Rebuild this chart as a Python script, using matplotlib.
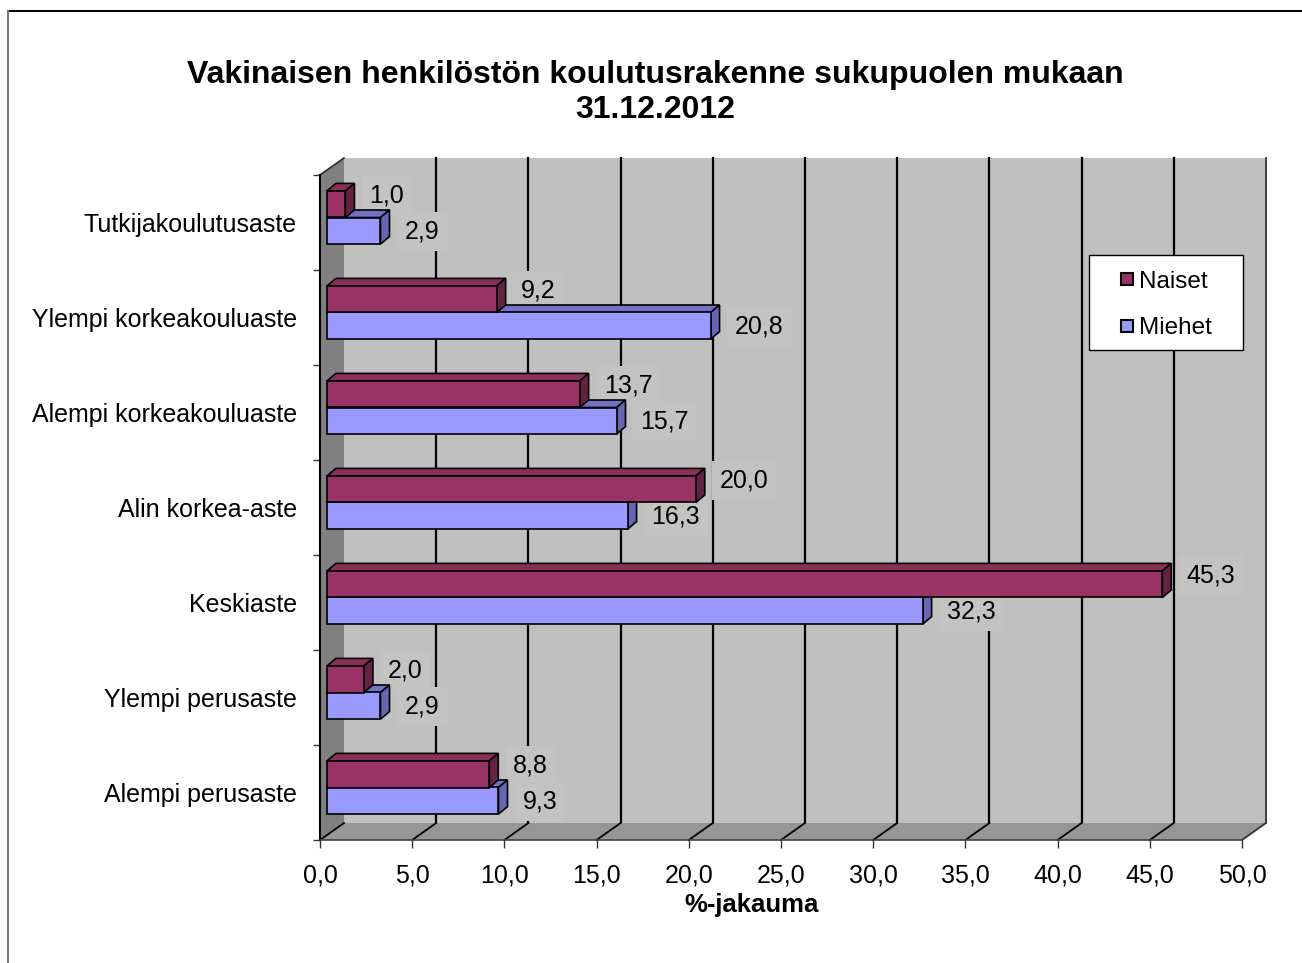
import matplotlib
matplotlib.use('Agg')
import matplotlib.pyplot as plt
from matplotlib.patches import Polygon, Rectangle
from matplotlib.lines import Line2D

plt.rcParams['font.family'] = ['Liberation Sans', 'DejaVu Sans']

# ---- data ----
categories = ['Alempi perusaste', 'Ylempi perusaste', 'Keskiaste', 'Alin korkea-aste',
              'Alempi korkeakouluaste', 'Ylempi korkeakouluaste', 'Tutkijakoulutusaste']
naiset = [8.8, 2.0, 45.3, 20.0, 13.7, 9.2, 1.0]
miehet = [9.3, 2.9, 32.3, 16.3, 15.7, 20.8, 2.9]
series_names = ['Naiset', 'Miehet']
xticks = [0, 5, 10, 15, 20, 25, 30, 35, 40, 45, 50]
title_line1 = 'Vakinaisen henkilöstön koulutusrakenne sukupuolen mukaan'
title_line2 = '31.12.2012'
xlabel = '%-jakauma'

# ---- styles ----
C_N, C_N_TOP, C_N_SIDE = '#993366', '#8C2E5C', '#662244'
C_M, C_M_TOP, C_M_SIDE = '#9999FF', '#7373C6', '#6666B3'
WALL, LWALL, FLOOR = '#C0C0C0', '#808080', '#969696'

W, H = 1302, 963
fig = plt.figure(figsize=(W / 100, H / 100), dpi=100)
fig.patch.set_facecolor('white')
L, R, T, B = 320, 1242, 175, 840
ax = fig.add_axes([L / W, 1 - B / H, (R - L) / W, (B - T) / H])
xmax = xticks[-1]
n = len(categories)
ax.set_xlim(0, xmax)
ax.set_ylim(-0.5, n - 0.5)
ax.patch.set_visible(False)

PX = (R - L) / xmax
PY = (B - T) / n
ux = lambda p: p / PX
uy = lambda p: p / PY
WX, WY = ux(24), uy(17)      # wall depth
BX, BY = ux(7), uy(5)        # bar front-plane offset
DX, DY = ux(9), uy(7.5)      # bar depth
h = 0.28
lo, hi = -0.5, n - 0.5

# back wall
ax.add_patch(Rectangle((WX, lo + WY), xmax, n, fc=WALL, ec='none', zorder=0, clip_on=False))
for v in xticks[1:-1]:
    ax.plot([v + WX] * 2, [lo + WY, hi + WY], color='black', lw=1.6, zorder=1, clip_on=False)
ax.plot([xmax + WX] * 2, [lo + WY, hi + WY], color='#333333', lw=1.3, zorder=1, clip_on=False)
# left wall
ax.add_patch(Polygon([(0, lo), (WX, lo + WY), (WX, hi + WY), (0, hi)], closed=True,
                     fc=LWALL, ec='none', zorder=1.5, clip_on=False))
ax.plot([0, WX], [hi, hi + WY], color='#333333', lw=1.3, zorder=1.6, clip_on=False)
# floor
ax.add_patch(Polygon([(0, lo), (xmax, lo), (xmax + WX, lo + WY), (WX, lo + WY)], closed=True,
                     fc=FLOOR, ec='none', zorder=1.5, clip_on=False))
for v in xticks:
    ax.plot([v, v + WX], [lo, lo + WY], color='black' if v < xmax else '#333333',
            lw=1.3, zorder=1.6, clip_on=False)

# bars
def faces(vals, y0s, top_c, side_c, z):
    for v, y0 in zip(vals, y0s):
        x0, x1, y1 = BX, BX + v, y0 + h
        ax.add_patch(Polygon([(x0, y1), (x1, y1), (x1 + DX, y1 + DY), (x0 + DX, y1 + DY)],
                             closed=True, fc=top_c, ec='black', lw=1.2, zorder=z, clip_on=False))
        ax.add_patch(Polygon([(x1, y0), (x1 + DX, y0 + DY), (x1 + DX, y1 + DY), (x1, y1)],
                             closed=True, fc=side_c, ec='black', lw=1.2, zorder=z, clip_on=False))

ypos = list(range(n))
m_bottom = [y + BY - h for y in ypos]
n_bottom = [y + BY for y in ypos]
faces(miehet, m_bottom, C_M_TOP, C_M_SIDE, 4.0)
ax.barh([y + h / 2 for y in m_bottom], miehet, height=h, left=BX, color=C_M,
        edgecolor='black', lw=1.2, zorder=4.1, clip_on=False)
faces(naiset, n_bottom, C_N_TOP, C_N_SIDE, 4.2)
ax.barh([y + h / 2 for y in n_bottom], naiset, height=h, left=BX, color=C_N,
        edgecolor='black', lw=1.2, zorder=4.3, clip_on=False)

# data labels
def fmt(v):
    return f'{v:.1f}'.replace('.', ',')

for vals, bottoms, dy in [(naiset, n_bottom, 9), (miehet, m_bottom, -1)]:
    for v, y0 in zip(vals, bottoms):
        ax.annotate(fmt(v), xy=(BX + v, y0 + h / 2), xytext=(24, dy),
                    textcoords='offset pixels', ha='left', va='center', fontsize=18,
                    bbox=dict(boxstyle='square,pad=0.3', fc='#C3C3C3', ec='none'),
                    zorder=3, annotation_clip=False)

# axes ticks
ax.set_xticks(xticks)
ax.set_xticklabels([fmt(v) for v in xticks])
ax.tick_params(axis='x', length=5.8, width=1, color='#333333', labelsize=18, pad=11)
ax.set_yticks([k - 0.5 for k in range(n + 1)])
ax.set_yticklabels([])
ax.set_yticks(ypos, minor=True)
ax.set_yticklabels(categories, minor=True)
ax.tick_params(axis='y', which='major', length=5, width=1, color='#333333')
ax.tick_params(axis='y', which='minor', length=0, pad=16.5, labelsize=18)
for s in ['top', 'right']:
    ax.spines[s].set_visible(False)
ax.spines['left'].set_color('black')
ax.spines['left'].set_linewidth(1.5)
ax.spines['bottom'].set_color('#444444')
ax.spines['bottom'].set_linewidth(1.2)
for s in ax.spines.values():
    s.set_zorder(2)

ax.set_xlabel(xlabel, fontsize=18.5, fontweight='bold')
ax.xaxis.set_label_coords((752 - L) / (R - L), (B - 912) / (B - T))
ax.xaxis.label.set_verticalalignment('baseline')

# title
fig.text(655 / W, 1 - 83 / H, title_line1, ha='center', va='baseline', fontsize=23, fontweight='bold')
fig.text(655 / W, 1 - 118 / H, title_line2, ha='center', va='baseline', fontsize=23, fontweight='bold')

# legend (manual box)
fig.add_artist(Rectangle((1089 / W, 1 - 350 / H), 154 / W, 95 / H, transform=fig.transFigure,
                         fc='white', ec='black', lw=1))
for name, col, yc in [(series_names[0], C_N, 279), (series_names[1], C_M, 326)]:
    fig.add_artist(Rectangle((1121 / W, 1 - (yc + 6) / H), 12 / W, 12 / H, transform=fig.transFigure,
                             fc=col, ec='black', lw=1.5))
    fig.text(1139 / W, 1 - (yc + 8.5) / H, name, ha='left', va='baseline', fontsize=17.5)

# outer border
fig.add_artist(Line2D([8 / W, 1], [1 - 11 / H] * 2, color='black', lw=1.5, transform=fig.transFigure))
fig.add_artist(Line2D([8 / W] * 2, [0, 1 - 11 / H], color='#777777', lw=1.5, transform=fig.transFigure))

fig.savefig('out.png', dpi=100, facecolor='white')
